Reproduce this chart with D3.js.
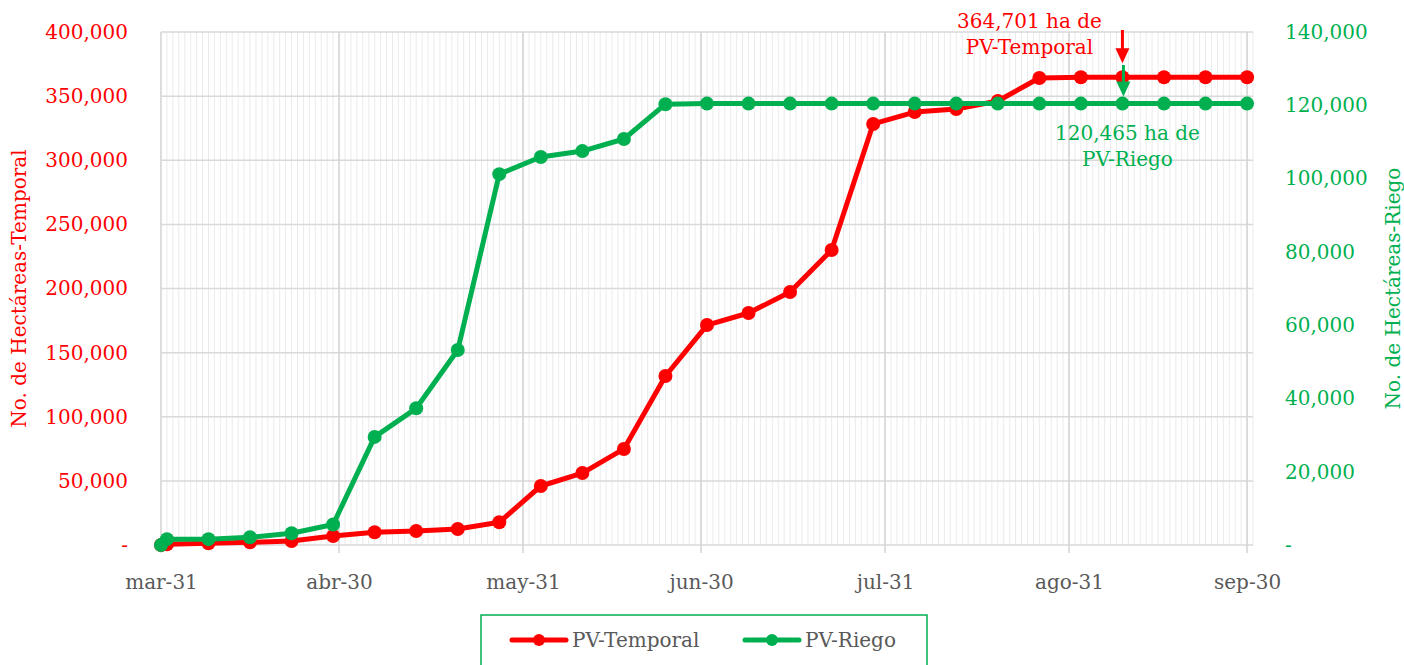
<!DOCTYPE html>
<html>
<head>
<meta charset="utf-8">
<script src="https://cdn.jsdelivr.net/npm/d3@7"></script>
<style>
  body { margin: 0; background: #fff; }
  text { font-family: 'DejaVu Serif', serif; }
</style>
</head>
<body>
<div id="chart"></div>
<script>
// weekly cumulative hectares (2021 season)
const dates = ['2021-03-31','2021-04-01','2021-04-08','2021-04-15','2021-04-22','2021-04-29',
  '2021-05-06','2021-05-13','2021-05-20','2021-05-27','2021-06-03','2021-06-10','2021-06-17',
  '2021-06-24','2021-07-01','2021-07-08','2021-07-15','2021-07-22','2021-07-29','2021-08-05',
  '2021-08-12','2021-08-19','2021-08-26','2021-09-02','2021-09-09','2021-09-16','2021-09-23','2021-09-30'];
const temporal = [0, 600, 1300, 2100, 3100, 7000, 9900, 10900, 12500, 17700, 46000, 56100, 74900,
  131800, 171500, 180900, 197300, 230000, 328300, 337600, 340000, 346200, 364100,
  364701, 364701, 364701, 364701, 364701];
const riego = [0, 1600, 1600, 2100, 3200, 5600, 29500, 37300, 53200, 101200, 105900, 107500, 110800,
  120300, 120465, 120465, 120465, 120465, 120465, 120465, 120465, 120465, 120465,
  120465, 120465, 120465, 120465, 120465];

const xTickDates = ['2021-03-31','2021-04-30','2021-05-31','2021-06-30','2021-07-31','2021-08-31','2021-09-30'];
const xTickLabels = ['mar-31','abr-30','may-31','jun-30','jul-31','ago-31','sep-30'];
const leftTicks = [0, 50000, 100000, 150000, 200000, 250000, 300000, 350000, 400000];
const rightTicks = [0, 20000, 40000, 60000, 80000, 100000, 120000, 140000];

const annotDate = '2021-09-09';
const annotTemporal = 364701;
const annotRiego = 120465;

const RED = '#ff0000';
const GREEN = '#00b050';
const GREY = '#595959';

const parse = d3.timeParse('%Y-%m-%d');
const fmt = d3.format(',');
const tickFmt = function(d) { return d === 0 ? '-' : fmt(d); };

let width = 1404, height = 665;
let plotLeft = 161, plotRight = 1253, plotTop = 32, plotBottom = 545;

let svg = d3.select('#chart')
  .append('svg')
    .attr('width', width)
    .attr('height', height);

let x = d3.scaleTime()
  .domain([parse('2021-03-31'), parse('2021-10-01')])
  .range([plotLeft, plotRight]);
let yL = d3.scaleLinear().domain([0, 400000]).range([plotBottom, plotTop]);
let yR = d3.scaleLinear().domain([0, 140000]).range([plotBottom, plotTop]);

// minor daily gridlines
let days = d3.timeDay.range(x.domain()[0], d3.timeDay.offset(x.domain()[1], 1));
svg.append('g').selectAll('line')
  .data(days)
  .enter()
  .append('line')
    .attr('x1', d => x(d)).attr('x2', d => x(d))
    .attr('y1', plotTop).attr('y2', plotBottom)
    .attr('stroke', '#ebebeb')
    .attr('stroke-width', 1);

// horizontal gridlines
svg.append('g').selectAll('line')
  .data(leftTicks)
  .enter()
  .append('line')
    .attr('x1', plotLeft).attr('x2', plotRight)
    .attr('y1', d => yL(d)).attr('y2', d => yL(d))
    .attr('stroke', '#d9d9d9')
    .attr('stroke-width', 1.5);

// major gridlines at month ticks
svg.append('g').selectAll('line')
  .data(xTickDates.map(parse))
  .enter()
  .append('line')
    .attr('x1', d => x(d)).attr('x2', d => x(d))
    .attr('y1', plotTop).attr('y2', plotBottom + 8)
    .attr('stroke', '#d4d4d4')
    .attr('stroke-width', 1.5);

// axes
let xAxis = svg.append('g')
  .attr('transform', `translate(0,${plotBottom})`)
  .call(d3.axisBottom(x)
    .tickValues(xTickDates.map(parse))
    .tickFormat((d, i) => xTickLabels[i])
    .tickSize(0)
    .tickPadding(30));
xAxis.select('.domain').remove();
xAxis.selectAll('text').attr('fill', GREY).style('font-size', '20px');

let yAxisL = svg.append('g')
  .attr('transform', `translate(${plotLeft},0)`)
  .call(d3.axisLeft(yL).tickValues(leftTicks).tickFormat(tickFmt).tickSize(0).tickPadding(33));
yAxisL.select('.domain').remove();
yAxisL.selectAll('text').attr('fill', RED).style('font-size', '20px');

let yAxisR = svg.append('g')
  .attr('transform', `translate(${plotRight},0)`)
  .call(d3.axisRight(yR).tickValues(rightTicks).tickFormat(tickFmt).tickSize(0).tickPadding(32));
yAxisR.select('.domain').remove();
yAxisR.selectAll('text').attr('fill', GREEN).style('font-size', '20px');

// axis titles
svg.append('text')
  .attr('transform', `translate(26,${(plotTop + plotBottom) / 2}) rotate(-90)`)
  .attr('text-anchor', 'middle')
  .attr('fill', RED)
  .style('font-size', '20px')
  .text('No. de Hectáreas-Temporal');

svg.append('text')
  .attr('transform', `translate(1400,${(plotTop + plotBottom) / 2}) rotate(-90)`)
  .attr('text-anchor', 'middle')
  .attr('fill', GREEN)
  .style('font-size', '20px')
  .text('No. de Hectáreas-Riego');

// series
function drawSeries(values, yScale, colour) {
  let pts = dates.map((d, i) => ({ date: parse(d), value: values[i] }));
  let line = d3.line()
    .x(d => x(d.date))
    .y(d => yScale(d.value));

  svg.append('path')
    .datum(pts)
    .attr('d', line)
    .attr('fill', 'none')
    .attr('stroke', colour)
    .attr('stroke-width', 5)
    .attr('stroke-linejoin', 'round');

  svg.append('g').selectAll('circle')
    .data(pts)
    .enter()
    .append('circle')
      .attr('cx', d => x(d.date))
      .attr('cy', d => yScale(d.value))
      .attr('r', 7)
      .attr('fill', colour);
}

drawSeries(temporal, yL, RED);
drawSeries(riego, yR, GREEN);

// annotations
function arrow(xPos, y1, y2, colour) {
  svg.append('line')
    .attr('x1', xPos).attr('x2', xPos)
    .attr('y1', y1).attr('y2', y2 - 12)
    .attr('stroke', colour)
    .attr('stroke-width', 3);
  svg.append('path')
    .attr('d', `M${xPos - 7},${y2 - 15} L${xPos + 7},${y2 - 15} L${xPos},${y2} Z`)
    .attr('fill', colour);
}

let ax = x(parse(annotDate));
arrow(ax, 30, yL(annotTemporal) - 14, RED);
arrow(ax + 1, 65, yR(annotRiego) - 7, GREEN);

let redNote = svg.append('text')
  .attr('text-anchor', 'middle')
  .attr('fill', RED)
  .style('font-size', '20px');
redNote.append('tspan').attr('x', ax - 93).attr('y', 28).text(fmt(annotTemporal) + ' ha de');
redNote.append('tspan').attr('x', ax - 93).attr('y', 54).text('PV-Temporal');

let greenNote = svg.append('text')
  .attr('text-anchor', 'middle')
  .attr('fill', GREEN)
  .style('font-size', '20px');
greenNote.append('tspan').attr('x', ax + 5).attr('y', 140).text(fmt(annotRiego) + ' ha de');
greenNote.append('tspan').attr('x', ax + 5).attr('y', 166).text('PV-Riego');

// legend
let legend = svg.append('g');
legend.append('rect')
  .attr('x', 481).attr('y', 615)
  .attr('width', 446).attr('height', 60)
  .attr('fill', '#fff')
  .attr('stroke', GREEN)
  .attr('stroke-width', 1.5);

[['PV-Temporal', RED, 512], ['PV-Riego', GREEN, 745]].forEach(function(item) {
  let g = legend.append('g').attr('transform', `translate(${item[2]},640)`);
  g.append('line')
    .attr('x1', 0).attr('x2', 54)
    .attr('stroke', item[1])
    .attr('stroke-width', 5)
    .attr('stroke-linecap', 'round');
  g.append('circle').attr('cx', 27).attr('r', 6).attr('fill', item[1]);
  g.append('text')
    .attr('x', 60).attr('dy', '0.35em')
    .attr('fill', GREY)
    .style('font-size', '20px')
    .text(item[0]);
});
</script>
</body>
</html>
